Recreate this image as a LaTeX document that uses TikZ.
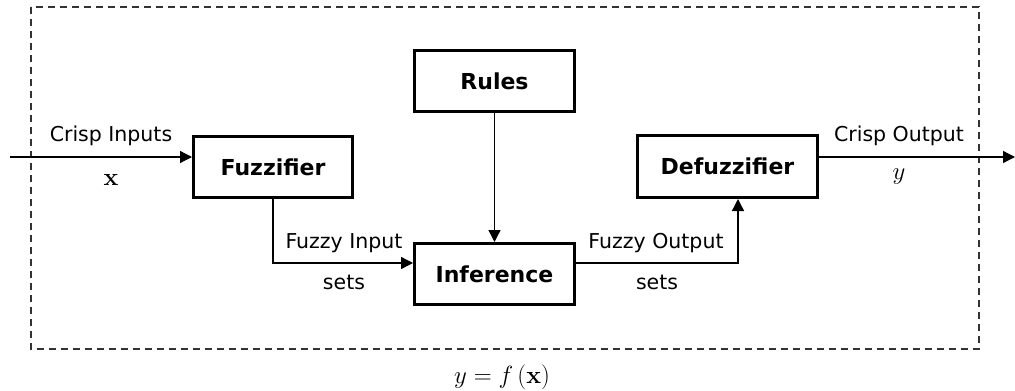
\documentclass[tikz,border=0pt]{standalone}
\usepackage[no-math]{fontspec}
\setmainfont{DejaVu Sans}
\usetikzlibrary{arrows.meta}
\begin{document}
\begin{tikzpicture}[x=1pt,y=-1pt,
  blk/.style={draw, line width=3pt, inner sep=0pt, font=\fontsize{22}{26}\selectfont\bfseries},
  lbl/.style={inner sep=0pt, font=\fontsize{20.5}{24}\selectfont},
  mathlbl/.style={inner sep=0pt, font=\fontsize{24}{28}\selectfont},
  conn/.style={line width=1.3pt, -{Triangle[length=12pt,width=12pt]}},
  frame/.style={line width=1.6pt, draw=black!80, dash pattern=on 7pt off 5pt}
]
\useasboundingbox (0,0) rectangle (1015,391);
\draw[frame] (31,7) rectangle (979,349);

\node[blk, minimum width=159pt, minimum height=61pt] (fuzz) at (273,167) {Fuzzifier};
\node[blk, minimum width=160pt, minimum height=61pt] (rules) at (494.5,81) {Rules};
\node[blk, minimum width=160pt, minimum height=61pt] (inf) at (494.5,274) {Inference};
\node[blk, minimum width=180pt, minimum height=62pt] (defuzz) at (727.5,166.5) {Defuzzifier};

\coordinate (in) at (10,157);
\coordinate (out) at (1015,157);

\draw[conn] (in) -- (in -| fuzz.west);
\draw[conn] (fuzz.south) |- ([yshift=11pt]inf.west);
\draw[conn] (rules.south) -- (inf.north);
\draw[conn] ([yshift=11pt]inf.east) -| ([xshift=10.5pt]defuzz.south);
\draw[conn] (defuzz.east |- out) -- (out);

\node[lbl] (ci) at (111,136) {Crisp Inputs};
\node[mathlbl] (xin) at (111,180) {$\mathbf{x}$};
\node[lbl] (fi) at (344,243) {Fuzzy Input};
\node[lbl] (fis) at (344,282) {sets};
\node[lbl] (fo) at (656,243) {Fuzzy Output};
\node[lbl] (fos) at (657,282) {sets};
\node[lbl] (co) at (899,136) {Crisp Output};
\node[mathlbl] (yout) at (899,177) {$y$};
\node[mathlbl] (fx) at (502,377) {$y = f\,(\mathbf{x})$};
\end{tikzpicture}
\end{document}
